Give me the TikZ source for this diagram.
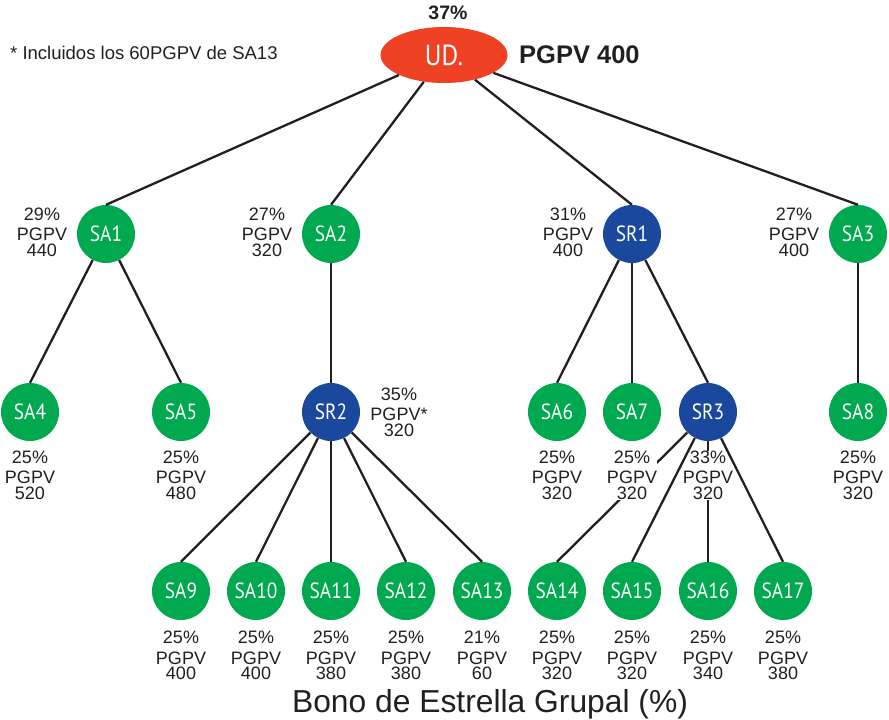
\documentclass[tikz,border=0pt]{standalone}
\usepackage{fontspec}
\setmainfont{Liberation Sans}
\newfontfamily\circfont[FakeStretch=0.88]{PT Sans}
\usetikzlibrary{shapes.geometric}
\definecolor{sagreen}{RGB}{0,169,79}
\definecolor{srblue}{RGB}{26,72,156}
\definecolor{udred}{RGB}{239,66,36}
\definecolor{txt}{RGB}{35,31,32}
\begin{document}
\begin{tikzpicture}[x=1pt,y=-1pt,
  sa/.style={circle,fill=sagreen,minimum size=58pt,inner sep=0pt,text=white,
    font=\circfont\fontsize{22}{22}\selectfont},
  sr/.style={sa,fill=srblue},
  edge/.style={line width=2.3pt,draw=txt},
  lab/.style={align=center,text=txt,inner sep=0pt,fill=white,anchor=north,
    font=\fontsize{18}{16.5}\selectfont},
  labb/.style={lab,font=\fontsize{18}{15}\selectfont}
]
\useasboundingbox (0,0) rectangle (889,720);

% top
\node[ellipse,fill=udred,minimum width=127pt,minimum height=56pt,inner sep=0pt,
  text=white,font=\circfont\fontsize{29}{29}\selectfont] (ud) at (444,55) {UD.};
\node[font=\bfseries\fontsize{19.5}{19.5}\selectfont,text=txt,inner sep=0pt] (pct) at (448,13) {37\%};
\node[font=\bfseries\fontsize{25.5}{25.5}\selectfont,text=txt,inner sep=0pt,anchor=west] (pgpv) at (519,55) {PGPV 400};
\node[font=\fontsize{18.5}{18.5}\selectfont,text=txt,inner sep=0pt,anchor=west] (note) at (10,53) {* Incluidos los 60PGPV de SA13};

% level 1
\node[sa] (sa1) at (106,234) {SA1};
\node[sa] (sa2) at (331,234) {SA2};
\node[sr] (sr1) at (632,234) {SR1};
\node[sa] (sa3) at (858,234) {SA3};

% level 2
\node[sa] (sa4) at (30,412) {SA4};
\node[sa] (sa5) at (181,412) {SA5};
\node[sr] (sr2) at (331,412) {SR2};
\node[sa] (sa6) at (557,412) {SA6};
\node[sa] (sa7) at (632,412) {SA7};
\node[sr] (sr3) at (708,412) {SR3};
\node[sa] (sa8) at (858,412) {SA8};

% level 3
\node[sa] (sa9)  at (181,591) {SA9};
\node[sa] (sa10) at (256,591) {SA10};
\node[sa] (sa11) at (331,591) {SA11};
\node[sa] (sa12) at (406,591) {SA12};
\node[sa] (sa13) at (482,591) {SA13};
\node[sa] (sa14) at (557,591) {SA14};
\node[sa] (sa15) at (632,591) {SA15};
\node[sa] (sa16) at (708,591) {SA16};
\node[sa] (sa17) at (783,591) {SA17};

% edges
\draw[edge] (ud) -- (sa1.north);
\draw[edge] (ud) -- (sa2.north);
\draw[edge] (ud) -- (sr1.north);
\draw[edge] (ud) -- (sa3.north);
\draw[edge] (sa1) -- (sa4.north);
\draw[edge] (sa1) -- (sa5.north);
\draw[edge] (sa2) -- (sr2.north);
\draw[edge] (sr1) -- (sa6.north);
\draw[edge] (sr1) -- (sa7.north);
\draw[edge] (sr1) -- (sr3.north);
\draw[edge] (sa3) -- (sa8.north);
\draw[edge] (sr2) -- (sa9.north);
\draw[edge] (sr2) -- (sa10.north);
\draw[edge] (sr2) -- (sa11.north);
\draw[edge] (sr2) -- (sa12.north);
\draw[edge] (sr2) -- (sa13.north);
\draw[edge] (sr3) -- (sa14.north);
\draw[edge] (sr3) -- (sa16.north);

% labels level 1
\node[lab] (l1) at (42,207.3) {29\%\\[3.5pt]PGPV\\440};
\node[lab] (l2) at (267,207.3) {27\%\\[3.5pt]PGPV\\320};
\node[lab] (l3) at (568,207.3) {31\%\\[3.5pt]PGPV\\400};
\node[lab] (l4) at (794,207.3) {27\%\\[3.5pt]PGPV\\400};

% labels level 2
\node[lab] (l5) at (30,450.3) {25\%\\[3.5pt]PGPV\\520};
\node[lab] (l6) at (181,450.3) {25\%\\[3.5pt]PGPV\\480};
\node[lab] (l7) at (399,387.3) {35\%\\[3.5pt]PGPV*\\320};
\node[lab] (l8) at (557,450.3) {25\%\\[3.5pt]PGPV\\320};
\node[lab] (l9) at (632,450.3) {25\%\\[3.5pt]PGPV\\320};
\node[lab] (l10) at (708,450.3) {33\%\\[3.5pt]PGPV\\320};
\node[lab] (l11) at (858,450.3) {25\%\\[3.5pt]PGPV\\320};

% labels level 3
\node[labb] (l12) at (181,630.3) {25\%\\[6pt]PGPV\\400};
\node[labb] (l13) at (256,630.3) {25\%\\[6pt]PGPV\\400};
\node[labb] (l14) at (331,630.3) {25\%\\[6pt]PGPV\\380};
\node[labb] (l15) at (406,630.3) {25\%\\[6pt]PGPV\\380};
\node[labb] (l16) at (482,630.3) {21\%\\[6pt]PGPV\\60};
\node[labb] (l17) at (557,630.3) {25\%\\[6pt]PGPV\\320};
\node[labb] (l18) at (632,630.3) {25\%\\[6pt]PGPV\\320};
\node[labb] (l19) at (708,630.3) {25\%\\[6pt]PGPV\\340};
\node[labb] (l20) at (783,630.3) {25\%\\[6pt]PGPV\\380};

% edges drawn over labels
\draw[edge] (sr3) -- (sa15.north);
\draw[edge] (sr3) -- (sa17.north);

% title
\node[font=\fontsize{31.8}{31.8}\selectfont,text=txt,inner sep=0pt] (title) at (490,704.5) {Bono de Estrella Grupal (\%)};
\end{tikzpicture}
\end{document}
